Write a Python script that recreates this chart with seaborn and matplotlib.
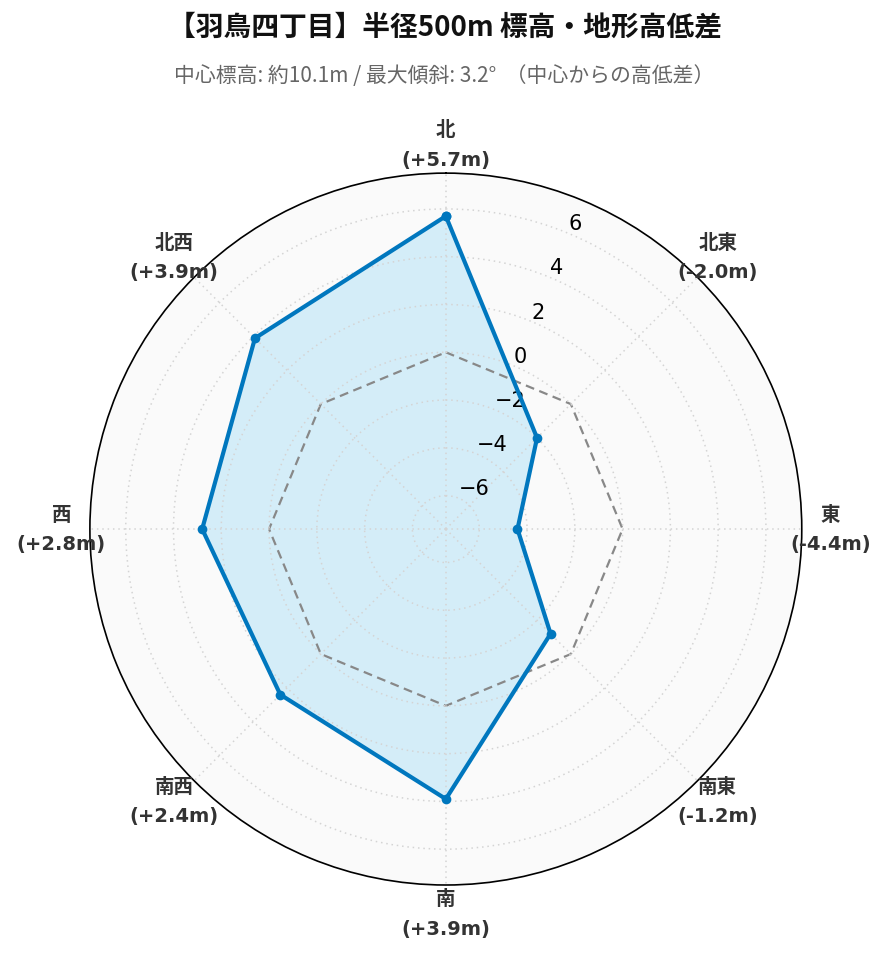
import numpy as np
import pandas as pd
import matplotlib
matplotlib.use("Agg")
import matplotlib.pyplot as plt
import seaborn as sns

# dati: differenza di quota rispetto al centro (m)
directions = ["北", "北東", "東", "南東", "南", "南西", "西", "北西"]
diffs = [5.7, -2.0, -4.4, -1.2, 3.9, 2.4, 2.8, 3.9]
angles_deg = [0, 45, 90, 135, 180, 225, 270, 315]
rticks = [-6, -4, -2, 0, 2, 4, 6]

title = "【羽鳥四丁目】半径500m 標高・地形高低差"
subtitle = "中心標高: 約10.1m / 最大傾斜: 3.2°  （中心からの高低差）"

sns.set_style("white")
plt.rcParams["font.family"] = ["Noto Sans CJK JP", "DejaVu Sans"]

df = pd.DataFrame({"dir": directions, "diff": diffs, "deg": angles_deg})
df["theta"] = np.deg2rad(df["deg"])
# chiudo il poligono (ultimo punto a 360 gradi, non 0)
first = df.iloc[[0]].copy()
first["theta"] = 2 * np.pi
df_closed = pd.concat([df, first], ignore_index=True)

fig = plt.figure(figsize=(8.89, 9.62), dpi=100)
ax = fig.add_axes([0.101, 0.079, 0.801, 0.740], projection="polar")
ax.set_theta_offset(np.pi / 2)
ax.set_theta_direction(-1)
ax.set_facecolor("#fafafa")
ax.set_axisbelow(False)

ax.fill(df_closed["theta"], df_closed["diff"], color="#c5e8f8", alpha=0.7, zorder=1.5)
# linea di riferimento a 0
ax.plot(df_closed["theta"], [0] * len(df_closed), color="#888888",
        lw=1.6, ls=(0, (4, 2.5)), zorder=2)
sns.lineplot(x=df_closed["theta"], y=df_closed["diff"], ax=ax, sort=False,
             color="#0077be", lw=3, marker="o", markersize=7,
             markeredgewidth=0, zorder=4)

ax.set_ylim(-7.4, 7.5)
ax.set_yticks(rticks)
ax.set_yticklabels([str(t).replace("-", "\u2212") for t in rticks],
                   fontsize=15, family=["DejaVu Sans"], color="black")
ax.set_rlabel_position(22.5)

labels = [f"{d}\n({v:+.1f}m)" for d, v in zip(directions, diffs)]
ax.set_xticks(df["theta"])
ax.set_xticklabels(labels, fontsize=14, fontweight="bold", color="#333333",
                   family=["DejaVu Sans", "Noto Sans CJK JP"], linespacing=1.7)
ax.tick_params(axis="x", pad=10)

ax.grid(True, color="#d4d4d4", ls=(0, (1, 2.5)), lw=1.1)
ax.spines["polar"].set_color("black")
ax.spines["polar"].set_linewidth(1.2)
ax.set_xlabel("")
ax.set_ylabel("")

fig.text(0.5, 0.971, title, ha="center", va="center",
         fontsize=20, fontweight="bold", color="#111111")
fig.text(0.5, 0.921, subtitle, ha="center", va="center",
         fontsize=15, color="#666666")

fig.savefig("out.png", dpi=100, facecolor="white")
